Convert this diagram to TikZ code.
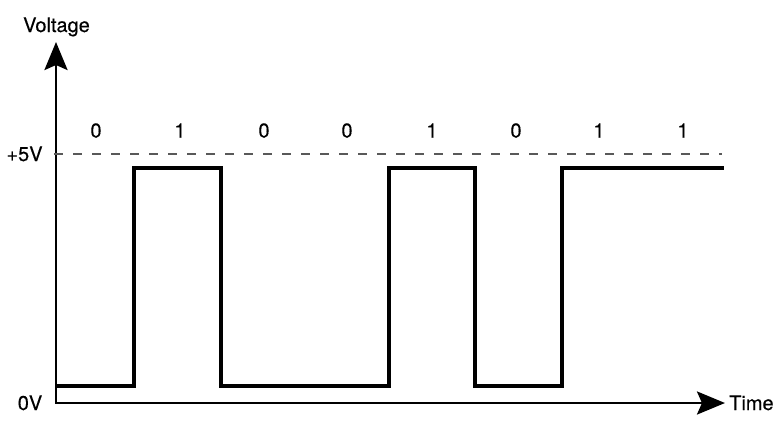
\documentclass[tikz,border=0pt]{standalone}
\usepackage{fontspec}
\setmainfont{TeX Gyre Heros}[FakeBold=0.35]
\usetikzlibrary{arrows.meta}
\begin{document}
\begin{tikzpicture}[x=1pt,y=-1pt,
  axis/.style={line width=2.8pt,{Stealth[length=28pt,width=23pt,inset=5pt]}-{Stealth[length=28pt,width=23pt,inset=5pt]}},
  signal/.style={line width=3.2pt,line join=miter},
  refline/.style={line width=1.1pt,dash pattern=on 8.5pt off 10.5pt,color=black!65},
  lbl/.style={font=\fontsize{20}{22}\selectfont,inner sep=0pt,anchor=base}]
\useasboundingbox (0,0) rectangle (782,437);
% axes
\coordinate (O) at (56,403);
\coordinate (Ytop) at (56,42);
\coordinate (Xend) at (725,403);
\draw[axis] (Ytop) -- (O) -- (Xend);
% +5V reference
\coordinate (R0) at (54,154);
\coordinate (R1) at (722,154);
\draw[refline] (R0) -- (R1);
% signal
\draw[signal] (56,386) -- (134,386) -- (134,168) -- (221,168) -- (221,386)
  -- (389,386) -- (389,168) -- (475,168) -- (475,386) -- (562,386)
  -- (562,168) -- (724,168);
% labels
\node[lbl] (volt) at (56.5,32) {Voltage};
\node[lbl,anchor=base west] (time) at (729,410) {Time};
\node[lbl] (five) at (24.5,161) {+5V};
\node[lbl] (zero) at (30,410) {0V};
\node[lbl] (b1) at (96,137.5) {0};
\node[lbl] (b2) at (180,137.5) {1};
\node[lbl] (b3) at (264,137.5) {0};
\node[lbl] (b4) at (347,137.5) {0};
\node[lbl] (b5) at (432,137.5) {1};
\node[lbl] (b6) at (516,137.5) {0};
\node[lbl] (b7) at (599,137.5) {1};
\node[lbl] (b8) at (683,137.5) {1};
\end{tikzpicture}
\end{document}
